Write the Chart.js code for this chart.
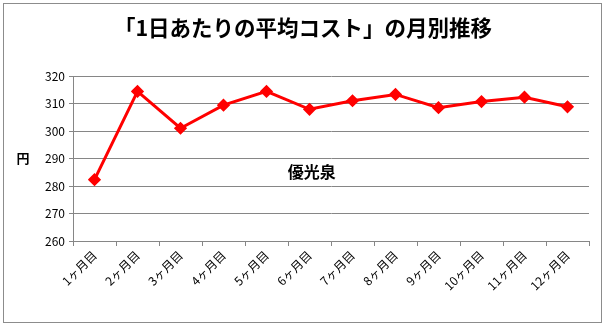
<!DOCTYPE html>
<html>
<head>
<meta charset="utf-8">
<script src="https://cdn.jsdelivr.net/npm/chart.js@4/dist/chart.umd.min.js"></script>
<style>
  html, body { margin: 0; padding: 0; background: #fff; }
  #wrap { position: relative; width: 606px; height: 327px; }
  #frame { position: absolute; left: 3px; top: 3px; width: 597px; height: 318px; border: 1px solid #8c8c8c; pointer-events: none; }
</style>
</head>
<body>
<div id="wrap">
  <canvas id="grafico" width="606" height="327"></canvas>
  <div id="frame"></div>
</div>
<script>
const titulo = '「1日あたりの平均コスト」の月別推移';
const meses = ['1ヶ月目', '2ヶ月目', '3ヶ月目', '4ヶ月目', '5ヶ月目', '6ヶ月目',
               '7ヶ月目', '8ヶ月目', '9ヶ月目', '10ヶ月目', '11ヶ月目', '12ヶ月目'];
const costo = [282.3, 314.4, 301.0, 309.4, 314.4, 307.9, 311.0, 313.3, 308.5, 310.7, 312.3, 308.8];
const serie = '優光泉';
const unidad = '円';
const yTicks = [260, 270, 280, 290, 300, 310, 320];

const fuente = '"Noto Sans CJK JP", "Noto Sans", sans-serif';

// title, unit label and series name drawn on the canvas
const textos = {
    id: 'textos',
    afterDraw(chart) {
        const ctx = chart.ctx;
        const area = chart.chartArea;
        const x = chart.scales.x, y = chart.scales.y;
        ctx.save();
        ctx.fillStyle = '#000';
        ctx.textAlign = 'center';
        ctx.textBaseline = 'middle';
        ctx.font = 'bold 21.5px ' + fuente;
        ctx.fillText(titulo, 303, 28);
        ctx.font = 'bold 13px ' + fuente;
        ctx.fillText(unidad, 23, (area.top + area.bottom) / 2);
        ctx.font = 'bold 16px ' + fuente;
        ctx.fillText(serie, x.getPixelForValue(5.05), y.getPixelForValue(285));
        ctx.restore();
    }
};

const ctx = document.getElementById('grafico').getContext('2d');
new Chart(ctx, {
    type: 'line',
    data: {
        labels: meses,
        datasets: [{
            label: serie,
            data: costo,
            borderColor: '#ff0000',
            backgroundColor: '#ff0000',
            borderWidth: 3,
            pointStyle: 'rectRot',
            pointRadius: 4.5,
            pointHoverRadius: 4.5,
            tension: 0
        }]
    },
    options: {
        responsive: false,
        animation: false,
        layout: { padding: { top: 76, right: 17, left: 0, bottom: 0 } },
        plugins: {
            legend: { display: false },
            title: { display: false },
            tooltip: { enabled: false }
        },
        scales: {
            x: {
                offset: true,
                grid: { offset: true, drawOnChartArea: false, color: '#868686', tickLength: 5 },
                border: { color: '#868686' },
                ticks: {
                    minRotation: 45, maxRotation: 45,
                    color: '#000',
                    padding: 2,
                    font: { family: fuente, size: 12 }
                },
                afterFit(scale) { scale.height = 86; }
            },
            y: {
                min: 260, max: 320,
                grid: { color: '#868686', tickLength: 4 },
                border: { color: '#868686' },
                afterBuildTicks(scale) { scale.ticks = yTicks.map(v => ({ value: v })); },
                ticks: {
                    color: '#000',
                    padding: 4,
                    font: { family: fuente, size: 12 }
                },
                afterFit(scale) { scale.width = 73; }
            }
        }
    },
    plugins: [textos]
});
</script>
</body>
</html>
